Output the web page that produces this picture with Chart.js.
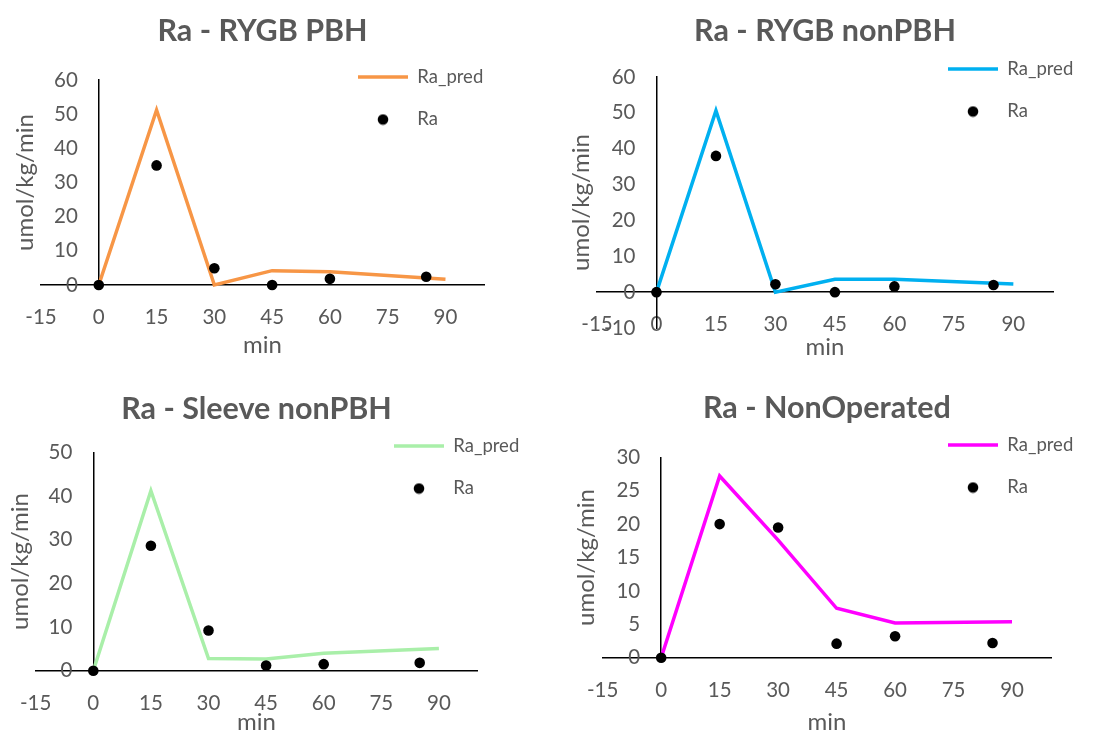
<!DOCTYPE html>
<html>
<head>
<meta charset="utf-8">
<script src="https://cdn.jsdelivr.net/npm/chart.js@4.4.1/dist/chart.umd.min.js"></script>
<style>
body { margin: 0; background: #fff; }
.panel { position: absolute; }
</style>
</head>
<body>
<div class="panel" style="left:0;top:0"><canvas id="c1" width="551" height="365"></canvas></div>
<div class="panel" style="left:551px;top:0"><canvas id="c2" width="551" height="365"></canvas></div>
<div class="panel" style="left:0;top:365px"><canvas id="c3" width="551" height="366"></canvas></div>
<div class="panel" style="left:551px;top:365px"><canvas id="c4" width="551" height="366"></canvas></div>
<script>
// time points (min)
const xTicks = [-15, 0, 15, 30, 45, 60, 75, 90];
const predTimes = [0, 15, 30, 45, 60, 90];
const obsTimes = [0, 15, 30, 45, 60, 85];

// Ra_pred (line) and Ra (dots), umol/kg/min
const pbhPred = [0, 51.2, 0, 4.2, 3.9, 1.7];
const pbhObs = [0, 35.0, 4.9, 0, 1.8, 2.4];
const nonPbhPred = [0, 50.6, 0, 3.6, 3.6, 2.3];
const nonPbhObs = [0, 38.0, 2.2, 0, 1.6, 2.0];
const sleevePred = [0, 41.2, 2.8, 2.7, 4.0, 5.1];
const sleeveObs = [0, 28.6, 9.2, 1.2, 1.5, 1.8];
const nonOpPred = [0, 27.2, 17.6, 7.4, 5.2, 5.4];
const nonOpObs = [0, 20.0, 19.5, 2.1, 3.2, 2.2];

// y tick labels
const pbhTicks = [0, 10, 20, 30, 40, 50, 60];
const nonPbhTicks = [-10, 0, 10, 20, 30, 40, 50, 60];
const sleeveTicks = [0, 10, 20, 30, 40, 50];
const nonOpTicks = [0, 5, 10, 15, 20, 25, 30];

const TEXT = '#595959';
const FS_TITLE = 30.5, FS_TICK = 20.5, FS_AXIS = 24, FS_LEG = 18.5, LH = 1.2, LEG_PAD = 24;
Chart.defaults.font.family = 'Lato';
Chart.defaults.color = TEXT;

// black dot used as the legend marker for Ra
const dot = document.createElement('canvas');
dot.width = 12; dot.height = 12;
const dctx = dot.getContext('2d');
dctx.fillStyle = '#000';
dctx.beginPath(); dctx.arc(6, 6, 5.3, 0, Math.PI * 2); dctx.fill();

// y labels sit ~21px left of the y axis; value-positioned axes ignore ticks.padding,
// so pad the label text with trailing spaces
dctx.font = FS_TICK + 'px Lato';
const ySuffix = ' '.repeat(Math.max(1, Math.round(21 / dctx.measureText(' ').width)));

// put the legend where excel had it (inside the plot, top right)
const legendSpot = {
  id: 'legendSpot',
  afterLayout(chart, args, opts) {
    const lg = chart.legend;
    lg.left = opts.x - LEG_PAD;
    lg.top = opts.y - LEG_PAD - FS_LEG / 2;
    lg.right = lg.left + 200;
    lg.bottom = lg.top + 200;
  }
};

function pts(xs, ys) {
  return xs.map((x, i) => ({x: x, y: ys[i]}));
}

function fixTicks(vals) {
  return (scale) => { scale.ticks = vals.map(v => ({value: v})); };
}

function panel(id, title, color, pred, obs, yTicks, g) {
  const H = document.getElementById(id).height;
  const tLH = FS_TITLE * LH, aLH = FS_AXIS * LH;
  const [L, T, R, B] = g.area;
  const xtTop = g.xTitleY - B - aLH / 2;
  new Chart(document.getElementById(id), {
    type: 'line',
    data: {
      datasets: [{
        label: 'Ra_pred',
        data: pts(predTimes, pred),
        borderColor: color,
        backgroundColor: color,
        borderWidth: 3.5,
        pointRadius: 0,
        tension: 0,
        clip: false,
        order: 1
      }, {
        label: 'Ra',
        data: pts(obsTimes, obs),
        showLine: false,
        borderColor: '#000',
        backgroundColor: '#000',
        pointRadius: 5.3,
        pointBorderWidth: 0,
        clip: false,
        order: 0
      }]
    },
    options: {
      responsive: false,
      animation: false,
      layout: {padding: {left: 0, top: 0, right: 551 - R, bottom: H - B - aLH - xtTop}},
      plugins: {
        title: {
          display: true, text: title, fullSize: false, color: TEXT,
          font: {size: FS_TITLE, weight: 'bold'},
          padding: {top: g.titleY - tLH / 2, bottom: T - g.titleY - tLH / 2}
        },
        legend: {
          position: 'chartArea',
          align: 'start',
          labels: {
            usePointStyle: true,
            pointStyleWidth: 50,
            padding: LEG_PAD,
            color: TEXT,
            font: {size: FS_LEG},
            generateLabels(chart) {
              const items = Chart.defaults.plugins.legend.labels.generateLabels(chart);
              items.sort((a, b) => a.datasetIndex - b.datasetIndex);
              items[0].pointStyle = 'line';
              items[0].strokeStyle = color;
              items[0].lineWidth = 3.5;
              items[1].pointStyle = dot;
              return items;
            }
          }
        },
        legendSpot: {x: g.legend[0], y: g.legend[1]},
        tooltip: {enabled: false}
      },
      scales: {
        x: {
          type: 'linear', min: xTicks[0], max: 100, position: {y: 0},
          afterBuildTicks: fixTicks(xTicks),
          grid: {display: false, drawTicks: false},
          border: {display: true, color: '#000', width: 1.5},
          ticks: {font: {size: FS_TICK}, color: TEXT, padding: 20, maxRotation: 0}
        },
        y: {
          type: 'linear', min: yTicks[0], max: yTicks[yTicks.length - 1], position: {x: 0},
          afterBuildTicks: fixTicks(yTicks),
          grid: {display: false, drawTicks: false},
          border: {display: true, color: '#000', width: 1.5},
          ticks: {font: {size: FS_TICK}, color: TEXT, callback: v => v + ySuffix}
        },
        xt: {
          type: 'linear', position: 'bottom',
          ticks: {display: false},
          grid: {display: false, drawTicks: false},
          border: {display: false},
          title: {display: true, text: 'min', color: TEXT, font: {size: FS_AXIS}, padding: {top: xtTop, bottom: 0}}
        },
        yt: {
          type: 'linear', position: 'left',
          ticks: {display: false},
          grid: {display: false, drawTicks: false},
          border: {display: false},
          title: {display: true, text: 'umol/kg/min', color: TEXT, font: {size: FS_AXIS},
                  padding: {top: g.yTitleX - aLH / 2, bottom: L - g.yTitleX - aLH / 2}}
        }
      }
    },
    plugins: [legendSpot]
  });
}

panel('c1', 'Ra - RYGB PBH', '#F79646', pbhPred, pbhObs, pbhTicks,
  {area: [41, 80, 484, 285], titleY: 31, yTitleX: 25, xTitleY: 345, legend: [358, 77]});
panel('c2', 'Ra - RYGB nonPBH', '#00B0F0', nonPbhPred, nonPbhObs, nonPbhTicks,
  {area: [46, 77, 502, 328], titleY: 31, yTitleX: 30, xTitleY: 347, legend: [397, 69]});
panel('c3', 'Ra - Sleeve nonPBH', '#A9EFA9', sleevePred, sleeveObs, sleeveTicks,
  {area: [34, 87.3, 477.3, 305.7], titleY: 44, yTitleX: 18.5, xTitleY: 357, legend: [394, 81]});
panel('c4', 'Ra - NonOperated', '#FF00FF', nonOpPred, nonOpObs, nonOpTicks,
  {area: [51.7, 92.3, 500, 292.7], titleY: 43, yTitleX: 35, xTitleY: 357, legend: [397, 80]});
</script>
</body>
</html>
